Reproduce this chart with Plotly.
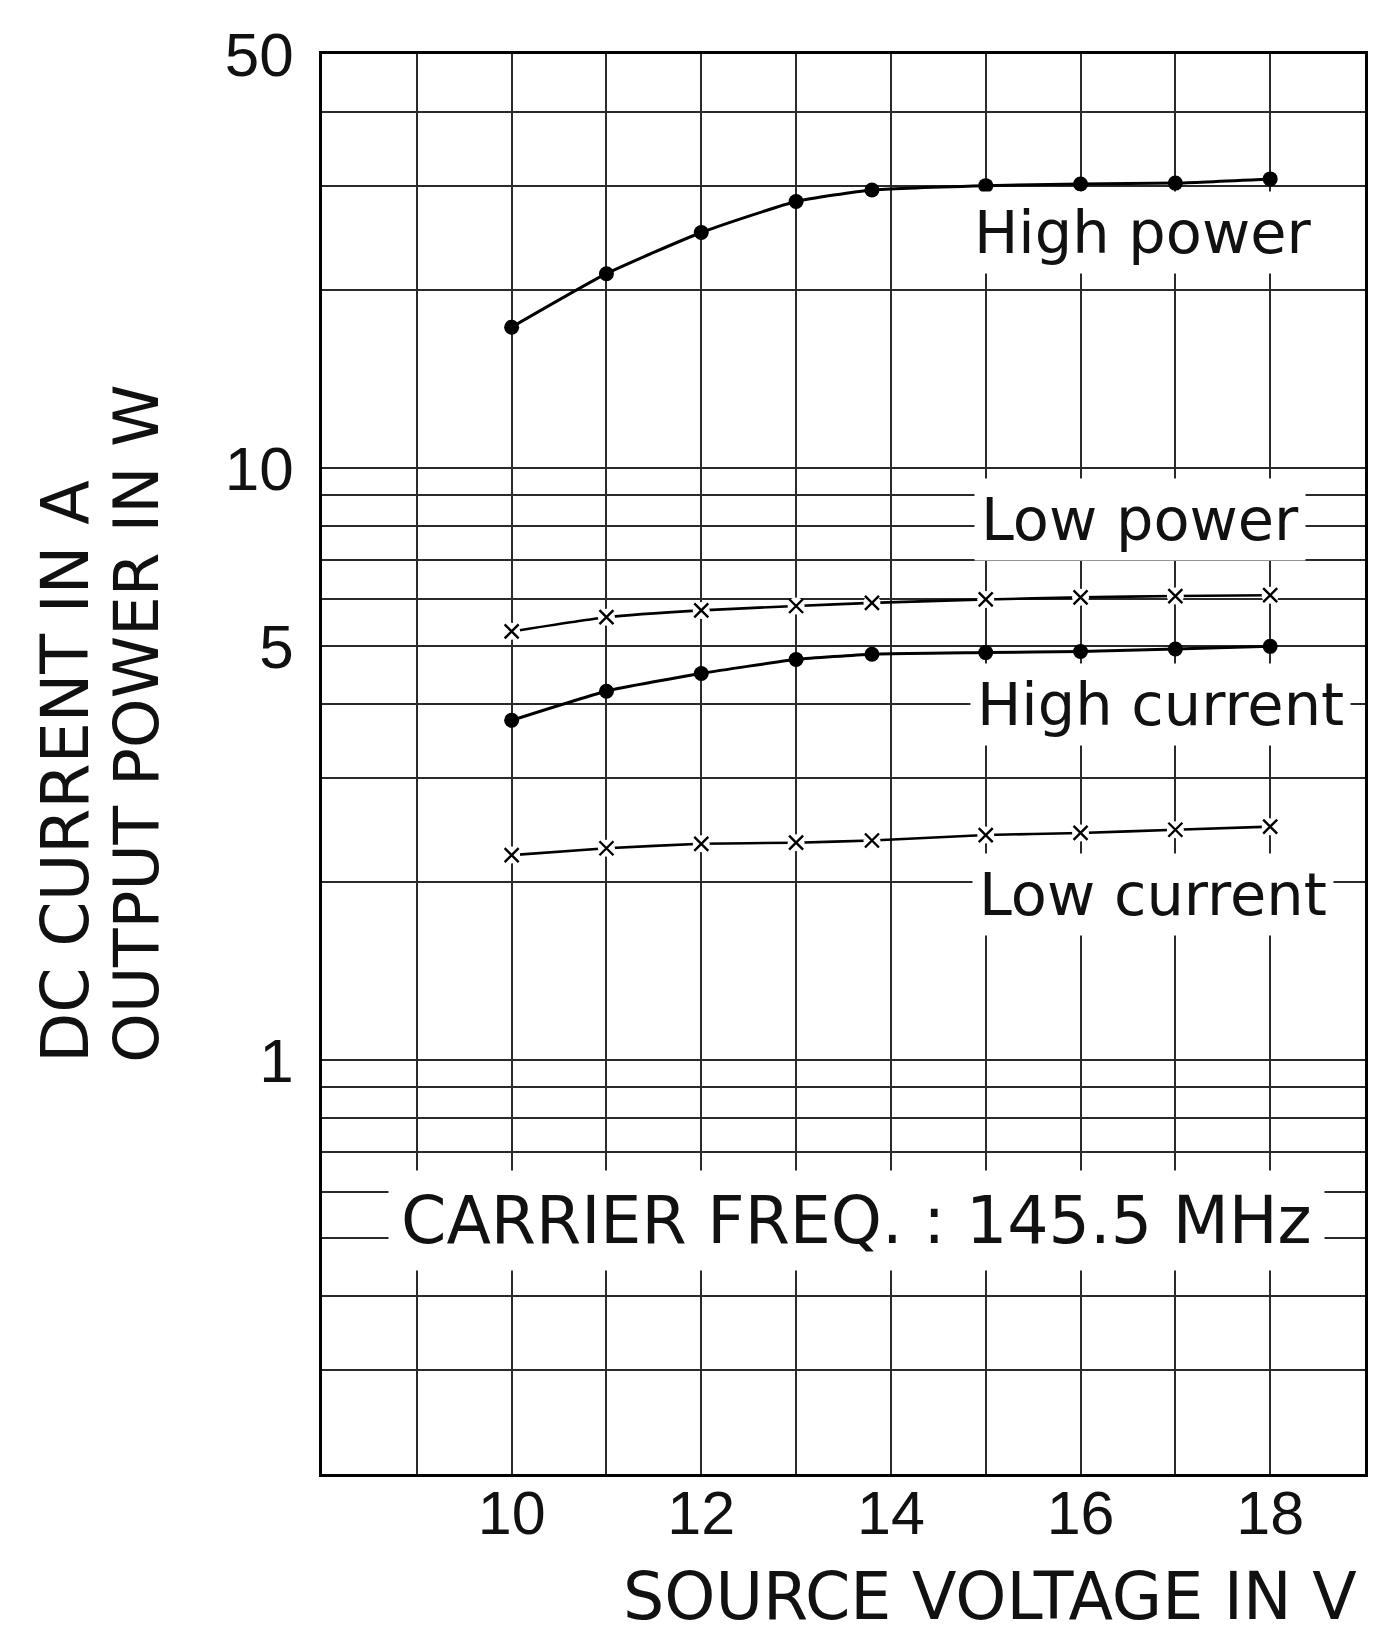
import math
import plotly.graph_objects as go

# ---- data ----
source_voltage = [10, 11, 12, 13, 13.8, 15, 16, 17, 18]
high_power = [17.3, 21.3, 25.0, 28.2, 29.5, 30.0, 30.2, 30.3, 30.8]
low_power = [5.3, 5.6, 5.75, 5.85, 5.92, 6.0, 6.05, 6.08, 6.1]
high_current = [3.75, 4.2, 4.5, 4.75, 4.85, 4.88, 4.9, 4.95, 5.0]
low_current = [2.22, 2.28, 2.32, 2.33, 2.35, 2.40, 2.42, 2.45, 2.48]

x_grid = [8, 9, 10, 11, 12, 13, 14, 15, 16, 17, 18, 19]
x_labels = {10: "10", 12: "12", 14: "14", 16: "16", 18: "18"}
y_grid = [0.2, 0.3, 0.4, 0.5, 0.6, 0.7, 0.8, 0.9, 1, 2, 3, 4, 5, 6, 7, 8, 9, 10, 20, 30, 40, 50]
y_labels = {1: "1", 5: "5", 10: "10", 50: "50"}

series_labels = [
    ("High power", 14.8, 25.0),
    ("Low power", 14.88, 8.18),
    ("High current", 14.83, 3.99),
    ("Low current", 14.85, 1.905),
]
note_text = "CARRIER FREQ. : 145.5 MHz"
note_pos = (8.70, 0.536)

TICK_FONT = "Liberation Sans, Arial, sans-serif"
TEXT_FONT = "DejaVu Sans, sans-serif"

fig = go.Figure()

def add_series(y, dots):
    if dots:
        fig.add_trace(go.Scatter(
            x=source_voltage, y=y, mode="lines+markers",
            line=dict(color="black", width=3, shape="spline", smoothing=0.5),
            marker=dict(symbol="circle", size=15, color="black"),
            showlegend=False, hoverinfo="skip"))
    else:
        fig.add_trace(go.Scatter(
            x=source_voltage, y=y, mode="lines",
            line=dict(color="black", width=2.6, shape="spline", smoothing=0.5),
            showlegend=False, hoverinfo="skip"))
        fig.add_trace(go.Scatter(
            x=source_voltage, y=y, mode="markers",
            marker=dict(symbol="circle", size=17, color="white"),
            showlegend=False, hoverinfo="skip"))
        fig.add_trace(go.Scatter(
            x=source_voltage, y=y, mode="markers",
            marker=dict(symbol="x-thin", size=14, color="black",
                        line=dict(color="black", width=2.4)),
            showlegend=False, hoverinfo="skip"))

add_series(high_power, True)
add_series(low_power, False)
add_series(high_current, True)
add_series(low_current, False)

annotations = []
for txt, xv, yv in series_labels:
    annotations.append(dict(
        x=xv, y=math.log10(yv), xref="x", yref="y", text=txt, showarrow=False,
        xanchor="left", yanchor="middle", bgcolor="white", borderpad=6,
        font=dict(family=TEXT_FONT, size=59, color="#111")))
annotations.append(dict(
    x=note_pos[0], y=math.log10(note_pos[1]), xref="x", yref="y", text=note_text,
    showarrow=False, xanchor="left", yanchor="middle", bgcolor="white", borderpad=12,
    font=dict(family=TEXT_FONT, size=65, color="#111")))

# y-axis title (two rotated lines, bottom aligned)
annotations.append(dict(x=-0.246, y=0.2885, xref="paper", yref="paper", text="DC CURRENT IN A",
                        textangle=-90, showarrow=False, xanchor="center", yanchor="bottom",
                        font=dict(family=TEXT_FONT, size=65, color="#111")))
annotations.append(dict(x=-0.178, y=0.2885, xref="paper", yref="paper", text="OUTPUT POWER IN W",
                        textangle=-90, showarrow=False, xanchor="center", yanchor="bottom",
                        font=dict(family=TEXT_FONT, size=63, color="#111")))
# x-axis title
annotations.append(dict(x=0.9936, y=-0.1135, xref="paper", yref="paper", text="SOURCE VOLTAGE IN V",
                        showarrow=False, xanchor="right", yanchor="bottom", borderpad=0,
                        font=dict(family=TEXT_FONT, size=65, color="#111")))

# page is drawn with the browser's 8px body margin, so the figure is 8px smaller
fig.update_layout(
    width=1386, height=1631,
    margin=dict(l=314, r=29, t=38, b=165),
    paper_bgcolor="white", plot_bgcolor="white",
    annotations=annotations,
    xaxis=dict(range=[8, 19], tickmode="array", tickvals=x_grid,
               ticktext=[x_labels.get(v, "") for v in x_grid],
               showgrid=True, gridcolor="#2a2a2a", gridwidth=1.6,
               showline=True, linecolor="black", linewidth=2.8, mirror=True,
               ticks="", ticklabelstandoff=-16, zeroline=False,
               tickfont=dict(family=TICK_FONT, size=61, color="#111")),
    yaxis=dict(type="log", range=[math.log10(0.2), math.log10(50) + 0.0005],
               tickmode="array", tickvals=y_grid,
               ticktext=[y_labels.get(v, "") for v in y_grid],
               showgrid=True, gridcolor="#2a2a2a", gridwidth=1.6,
               showline=True, linecolor="black", linewidth=2.8, mirror=True,
               ticks="", ticklabelstandoff=13, zeroline=False,
               tickfont=dict(family=TICK_FONT, size=62, color="#111")),
)

fig.write_html("out.html")
